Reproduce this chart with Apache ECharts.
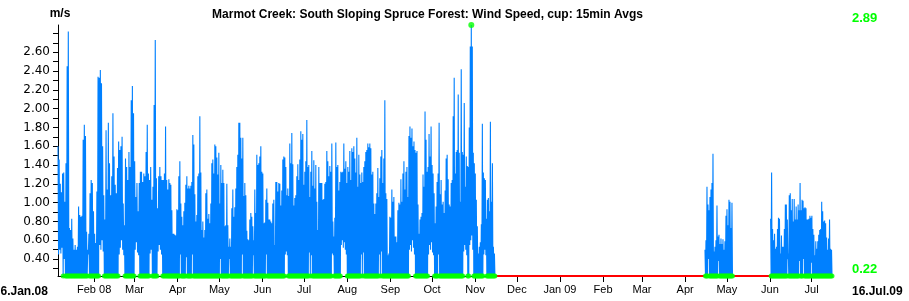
<!DOCTYPE html>
<html><head><meta charset="utf-8">
<script src="https://cdn.jsdelivr.net/npm/echarts@6/dist/echarts.min.js"></script>
<style>html,body{margin:0;padding:0;background:#fff}#c{width:909px;height:301px}</style>
</head><body><div id="c"></div>
<script>
// ---------- texts & axes ----------
const chartTitle = "Marmot Creek: South Sloping Spruce Forest: Wind Speed, cup: 15min Avgs";
const unitLabel = "m/s";
const axisStart = "2008-01-06T00:00";
const axisEnd = "2009-07-16T00:00";
const startLabel = "6.Jan.08";
const endLabel = "16.Jul.09";
const monthTicks = ["2008-02-01","2008-03-01","2008-04-01","2008-05-01","2008-06-01","2008-07-01","2008-08-01","2008-09-01","2008-10-01","2008-11-01","2008-12-01","2009-01-01","2009-02-01","2009-03-01","2009-04-01","2009-05-01","2009-06-01","2009-07-01"];
const monthLabels = ["Feb 08","Mar","Apr","May","Jun","Jul","Aug","Sep","Oct","Nov","Dec","Jan 09","Feb","Mar","Apr","May","Jun","Jul"];
const yMin = 0.22, yMax = 2.89;
const yTickValues = [0.3,0.4,0.5,0.6,0.7,0.8,0.9,1.0,1.1,1.2,1.3,1.4,1.5,1.6,1.7,1.8,1.9,2.0,2.1,2.2,2.3,2.4,2.5,2.6,2.7,2.8];
const yLabelValues = [0.4,0.6,0.8,1.0,1.2,1.4,1.6,1.8,2.0,2.2,2.4,2.6];

// ---------- data: periods of readings (peak / trough per step) ----------
const periodA = ["2008-01-06T00:00","2008-03-25T00:00"];
const hiA = [1.60,1.46,1.20,1.11,1.31,1.32,1.01,1.42,2.45,2.82,
0.73,0.71,0.83,0.62,0.50,0.55,0.50,0.53,0.96,0.87,
0.85,0.86,1.67,1.83,1.71,0.69,0.50,0.67,1.10,1.24,
1.21,0.91,0.67,0.57,1.12,2.34,2.33,2.41,2.27,1.60,
1.08,0.82,1.77,1.14,1.85,1.42,1.08,1.28,1.95,1.49,
1.19,1.10,1.37,1.65,1.56,1.60,1.70,0.99,0.76,1.47,
1.38,1.24,1.54,1.38,2.09,2.24,1.95,1.44,1.06,1.21,
0.91,1.21,1.33,1.33,1.22,1.31,1.28,1.54,1.83,1.31,
1.24,1.38,1.03,1.17,2.04,2.73,1.26,0.94,1.28,1.38,
1.28,1.24,1.24,1.31,1.81,1.24];
const loA = [0.45,0.50,0.46,0.52,0.22,0.40,0.22,0.22,0.22,0.22,
0.22,0.22,0.22,0.22,0.22,0.22,0.22,0.22,0.22,0.22,
0.22,0.22,0.22,0.22,0.22,0.22,0.45,0.22,0.22,0.22,
0.22,0.22,0.22,0.22,0.22,0.22,0.55,0.50,0.60,0.48,
0.22,0.22,0.22,0.22,0.22,0.22,0.22,0.22,0.22,0.22,
0.22,0.22,0.22,0.45,0.52,0.60,0.50,0.44,0.22,0.22,
0.22,0.22,0.22,0.22,0.22,0.22,0.22,0.50,0.58,0.47,
0.44,0.22,0.22,0.22,0.22,0.22,0.22,0.22,0.22,0.22,
0.46,0.50,0.22,0.22,0.22,0.22,0.22,0.48,0.55,0.50,
0.45,0.22,0.22,0.22,0.22,0.22];

const periodB = ["2008-03-25T00:00","2008-06-12T02:00"];
const hiB = [1.14,1.25,1.21,1.19,0.92,0.67,0.67,0.66,0.65,0.93,
0.92,1.28,1.44,0.99,0.85,0.76,0.91,1.00,1.19,1.28,
1.15,1.18,1.15,1.18,1.22,1.72,1.62,1.09,0.80,0.87,
1.28,1.31,1.92,1.32,0.71,0.80,0.63,0.71,1.10,1.14,
0.83,0.88,0.78,0.99,1.42,1.46,1.31,1.62,1.60,1.48,
1.30,1.53,0.99,1.40,1.21,1.35,1.21,0.75,0.76,1.20,
0.76,0.53,0.62,0.53,0.94,1.14,0.85,0.95,1.15,1.38,
1.51,1.85,1.85,1.69,1.47,1.69,1.07,1.21,1.08,0.70,
0.61,0.60,0.82,0.89,0.85,0.75,0.60,1.14,0.89,1.51,
1.40,1.42,1.49,1.60,1.33,1.31,0.78,0.79,1.03,1.15,
1.00,0.82,0.82,0.80,0.78,0.99,1.03,0.55,1.22,1.22];
const loB = [0.22,0.22,0.22,0.22,0.22,0.22,0.22,0.22,0.22,0.22,
0.22,0.22,0.45,0.22,0.22,0.22,0.22,0.22,0.42,0.22,
0.22,0.22,0.22,0.22,0.45,0.22,0.22,0.22,0.22,0.22,
0.22,0.22,0.22,0.22,0.22,0.22,0.22,0.22,0.22,0.22,
0.22,0.22,0.22,0.22,0.22,0.22,0.22,0.22,0.22,0.22,
0.22,0.22,0.40,0.22,0.22,0.22,0.22,0.22,0.22,0.22,
0.22,0.40,0.22,0.22,0.22,0.22,0.22,0.22,0.22,0.22,
0.22,0.22,0.22,0.22,0.45,0.22,0.22,0.22,0.22,0.22,
0.22,0.22,0.22,0.22,0.22,0.44,0.22,0.22,0.22,0.22,
0.22,0.22,0.22,0.22,0.22,0.22,0.22,0.22,0.45,0.22,
0.22,0.22,0.22,0.22,0.22,0.22,0.22,0.22,0.22,0.22];

const periodC = ["2008-06-12T02:00","2008-08-30T05:00"];
const hiC = [1.12,1.21,1.20,0.97,1.13,1.46,1.49,1.48,1.38,1.08,
1.15,1.07,1.63,1.42,1.74,1.41,0.97,1.05,1.08,1.28,
1.41,1.24,1.46,1.76,1.67,1.73,1.19,1.33,1.44,1.88,
1.38,1.40,1.06,1.33,1.55,1.18,1.45,1.15,1.40,1.01,
0.71,1.38,1.21,1.21,1.21,1.03,1.04,1.20,1.22,1.55,
1.44,1.28,1.39,1.33,1.63,0.80,0.64,0.84,1.64,1.38,
1.40,1.13,1.22,1.33,1.32,1.33,1.63,1.36,1.44,1.21,
1.38,1.33,1.55,1.24,1.58,1.54,1.60,1.47,1.32,1.69,
1.17,1.51,1.30,1.21,1.32,1.22,1.38,1.44,1.54,1.56,
1.63,1.59,1.63,1.58,1.30,1.33,0.99,0.88,0.99,1.10,
1.37,1.06,1.26,1.49,1.56,1.21,1.47,2.09,1.10,1.04];
const loC = [0.22,0.22,0.22,0.22,0.22,0.22,0.22,0.45,0.48,0.44,
0.22,0.22,0.22,0.22,0.22,0.22,0.22,0.22,0.22,0.22,
0.22,0.22,0.22,0.22,0.22,0.22,0.22,0.22,0.22,0.22,
0.22,0.47,0.22,0.44,0.22,0.22,0.22,0.22,0.22,0.22,
0.22,0.22,0.22,0.22,0.22,0.22,0.22,0.22,0.22,0.22,
0.22,0.22,0.22,0.22,0.46,0.44,0.22,0.22,0.22,0.22,
0.22,0.22,0.22,0.55,0.60,0.52,0.58,0.50,0.45,0.22,
0.22,0.22,0.22,0.22,0.22,0.22,0.22,0.22,0.22,0.22,
0.22,0.22,0.22,0.45,0.22,0.47,0.22,0.22,0.22,0.22,
0.22,0.22,0.22,0.22,0.22,0.22,0.22,0.22,0.22,0.22,
0.22,0.45,0.22,0.48,0.22,0.22,0.22,0.22,0.22,0.22];

const periodD = ["2008-08-30T05:00","2008-11-15T14:00"];
const hiD = [0.44,0.46,0.85,0.84,1.14,1.01,1.06,0.64,0.64,0.58,
0.92,1.00,0.98,1.25,1.01,1.31,1.44,1.14,1.33,1.38,
1.06,1.71,1.81,1.69,1.79,1.60,1.65,1.56,1.53,1.55,
0.98,0.67,0.82,0.85,0.89,1.30,1.17,1.97,1.67,1.33,
1.38,1.73,1.49,1.81,1.40,1.31,1.10,0.78,0.96,1.22,
1.31,1.85,1.09,1.24,0.98,1.01,0.89,1.13,1.47,1.51,
1.25,0.98,0.96,1.21,1.24,1.92,2.33,1.31,1.54,1.56,
2.15,1.53,1.01,2.42,1.54,1.51,2.06,1.17,1.49,1.39,
1.38,1.80,2.66,2.89,2.66,1.53,1.42,1.31,1.03,0.75,
0.46,0.53,0.58,0.77,1.84,1.32,1.26,1.24,0.83,1.03,
1.05,0.91,1.86,1.01,1.42,0.53,0.46];
const loD = [0.22,0.22,0.22,0.22,0.22,0.22,0.22,0.22,0.22,0.22,
0.22,0.22,0.22,0.22,0.22,0.22,0.22,0.22,0.22,0.22,
0.22,0.50,0.55,0.48,0.60,0.52,0.45,0.22,0.22,0.22,
0.22,0.22,0.22,0.22,0.22,0.22,0.22,0.22,0.22,0.22,
0.45,0.55,0.50,0.58,0.47,0.44,0.22,0.22,0.22,0.22,
0.45,0.22,0.22,0.22,0.22,0.22,0.22,0.22,0.22,0.22,
0.22,0.22,0.22,0.22,0.22,0.22,0.22,0.22,0.22,0.22,
0.22,0.22,0.22,0.22,0.22,0.48,0.55,0.50,0.44,0.22,
0.22,0.55,0.60,0.65,0.50,0.22,0.22,0.22,0.22,0.22,
0.22,0.22,0.22,0.22,0.22,0.45,0.50,0.44,0.22,0.22,
0.22,0.22,0.22,0.22,0.22,0.22,0.22];

const periodE = ["2009-04-15T07:00","2009-05-05T10:00"];
const hiE = [0.50,0.60,1.17,0.98,0.92,1.06,1.14,1.21,1.52,0.48,
0.53,0.60,0.97,0.64,0.66,0.56,0.62,0.56,0.61,0.50,
0.59,0.86,0.93,0.76,1.03,1.01,0.73,1.00];
const loE = [0.22,0.22,0.22,0.40,0.22,0.22,0.22,0.22,0.22,0.22,
0.22,0.22,0.22,0.38,0.22,0.22,0.22,0.22,0.22,0.22,
0.22,0.22,0.22,0.22,0.22,0.22,0.22,0.22];

const periodF = ["2009-06-01T12:00","2009-07-16T00:00"];
const hiF = [0.83,1.32,0.72,0.60,0.67,0.51,0.53,0.72,0.84,0.83,
0.46,0.65,0.53,0.53,0.72,0.98,0.98,0.82,0.46,1.08,
1.10,0.92,1.04,0.80,1.04,0.82,0.96,0.82,0.98,0.92,
1.21,0.92,1.03,1.02,0.94,0.95,0.94,0.82,0.82,0.83,
0.86,0.84,0.86,0.72,0.66,0.44,0.59,0.51,0.59,0.66,
0.71,0.72,1.01,0.91,0.80,0.81,0.78,0.63,0.50,0.62,
0.82,0.51,0.50];
const loF = [0.22,0.22,0.22,0.22,0.22,0.22,0.22,0.22,0.22,0.22,
0.22,0.22,0.22,0.22,0.22,0.22,0.22,0.40,0.22,0.22,
0.22,0.22,0.22,0.22,0.22,0.22,0.22,0.22,0.22,0.38,
0.22,0.22,0.22,0.40,0.22,0.22,0.22,0.22,0.22,0.22,
0.22,0.36,0.22,0.22,0.22,0.22,0.22,0.22,0.22,0.22,
0.22,0.22,0.22,0.22,0.22,0.22,0.22,0.22,0.22,0.22,
0.22,0.22,0.22];

// missing-data periods
const gapPeriods = [["2008-11-15T14:00","2009-04-15T07:00"],["2009-05-05T10:00","2009-06-01T12:00"]];

// ---------- build ----------
function ts(s){ return Date.parse((s.length===10 ? s+"T00:00" : s) + ":00Z"); }
function build(period, hi, lo){
  const t0 = ts(period[0]), t1 = ts(period[1]);
  const dt = (t1 - t0) / hi.length;
  const pts = [];
  for (let i = 0; i < hi.length; i++){
    pts.push([t0 + i*dt, hi[i]]);
    pts.push([t0 + (i+0.5)*dt, lo[i]]);
  }
  return pts;
}
const seg1 = [].concat(build(periodA,hiA,loA), build(periodB,hiB,loB), build(periodC,hiC,loC), build(periodD,hiD,loD));
const seg2 = build(periodE,hiE,loE);
const seg3 = build(periodF,hiF,loF);
const allPts = seg1.concat(seg2, seg3);
const minPts = allPts.filter(p => p[1] <= yMin + 1e-9);
let maxPt = allPts[0];
allPts.forEach(p => { if (p[1] > maxPt[1]) maxPt = p; });

const tickTs = monthTicks.map(ts);
const blue = '#0080ff';
function lineSeries(d){
  return {type:'line', data:d, showSymbol:false, symbol:'none', clip:false, sampling:null,
    lineStyle:{color:blue, width:1.1}, itemStyle:{color:blue}, z:2, silent:true};
}
function labelFor(v){
  for (let i = 0; i < tickTs.length; i++) if (Math.abs(tickTs[i] - v) < 1000) return monthLabels[i];
  return '';
}

const chart = echarts.init(document.getElementById('c'), null, {renderer:'canvas'});
chart.setOption({
  animation:false,
  backgroundColor:'#ffffff',
  grid:{left:58, right:76.5, top:25, bottom:25, containLabel:false},
  xAxis:{
    type:'value', min:ts(axisStart), max:ts(axisEnd), scale:true, z:0,
    axisLine:{show:true, lineStyle:{color:'#000', width:1}},
    axisTick:{show:true, length:6, inside:false, customValues:tickTs, lineStyle:{color:'#000'}},
    axisLabel:{show:true, customValues:tickTs, margin:8, color:'#000', fontFamily:'Liberation Sans', fontSize:11,
      formatter:function(v){ return labelFor(v); }},
    splitLine:{show:false}, minorTick:{show:false}
  },
  yAxis:{
    type:'value', min:yMin, max:yMax,
    axisLine:{show:true, lineStyle:{color:'#000', width:1}},
    axisTick:{show:true, length:5, inside:false, customValues:yTickValues, lineStyle:{color:'#000'}},
    axisLabel:{show:true, customValues:yLabelValues, margin:8, color:'#000', fontFamily:'DejaVu Sans', fontSize:12,
      formatter:function(v){ return Number(v).toFixed(2); }},
    splitLine:{show:false}
  },
  series:[
    lineSeries(seg1), lineSeries(seg2), lineSeries(seg3),
    {type:'line', data:[], silent:true},
  ].concat(gapPeriods.map(g => ({
      type:'line', data:[[ts(g[0]), yMin],[ts(g[1]), yMin]], showSymbol:false, symbol:'none', clip:false, silent:true, z:10,
      lineStyle:{color:'#ff0000', width:2}, itemStyle:{color:'#ff0000'}
    }))).concat([
    {type:'scatter', data:minPts, symbol:'circle', symbolSize:5, clip:false, silent:true, z:11,
      itemStyle:{color:'#00ff00'}},
    {type:'scatter', data:[maxPt], symbol:'circle', symbolSize:6, clip:false, silent:true, z:11,
      itemStyle:{color:'#00ff00'}}
  ]),
  graphic:[
    {type:'text', x:427.5, y:15, style:{text:chartTitle, font:'bold 12px "Liberation Sans", Arial', fill:'#000', textAlign:'center', align:'center', textVerticalAlign:'middle', verticalAlign:'middle'}},
    {type:'text', x:60, y:14, style:{text:unitLabel, font:'bold 12px "Liberation Sans", Arial', fill:'#000', textAlign:'center', align:'center', textVerticalAlign:'middle', verticalAlign:'middle'}},
    {type:'text', x:852, y:18.5, style:{text:yMax.toFixed(2), font:'bold 13px "Liberation Sans", Arial', fill:'#00ff00', textAlign:'left', align:'left', textVerticalAlign:'middle', verticalAlign:'middle'}},
    {type:'text', x:852, y:269.5, style:{text:yMin.toFixed(2), font:'bold 13px "Liberation Sans", Arial', fill:'#00ff00', textAlign:'left', align:'left', textVerticalAlign:'middle', verticalAlign:'middle'}},
    {type:'text', x:852, y:292, style:{text:endLabel, font:'bold 12px "Liberation Sans", Arial', fill:'#000', textAlign:'left', align:'left', textVerticalAlign:'middle', verticalAlign:'middle'}},
    {type:'text', x:0.5, y:292, style:{text:startLabel, font:'bold 12px "Liberation Sans", Arial', fill:'#000', textAlign:'left', align:'left', textVerticalAlign:'middle', verticalAlign:'middle'}}
  ]
});
</script>
</body></html>
